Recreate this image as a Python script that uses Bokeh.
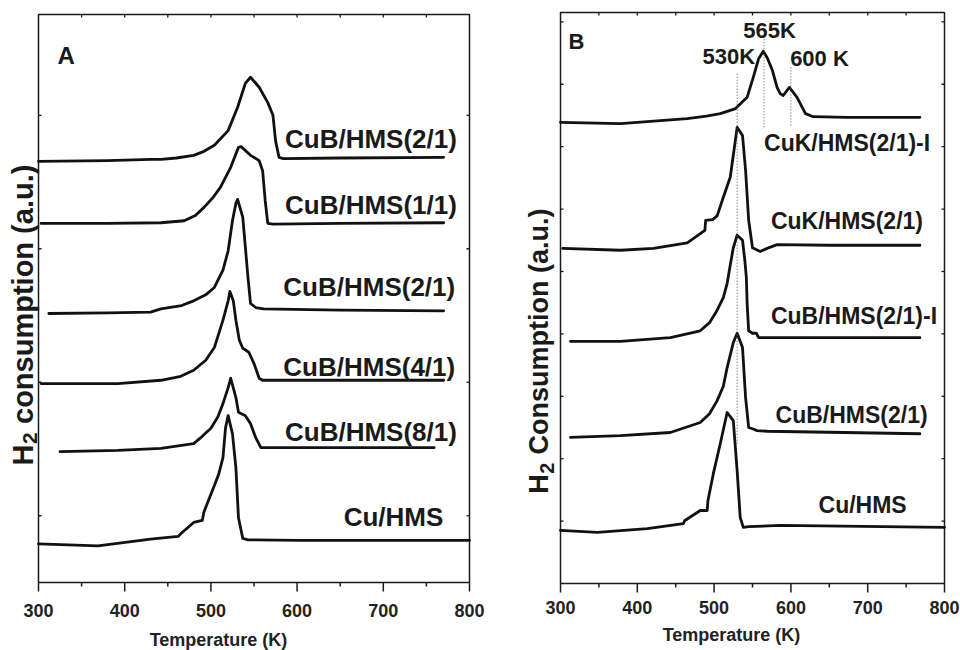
import math
from bokeh.plotting import figure
from bokeh.models import Range1d, Label
from bokeh.layouts import row
from bokeh.embed import file_html
from bokeh.resources import INLINE

FONT = "Liberation Sans"

# ---------------- data: panel A (temperature K, H2 consumption a.u.) ----------------
A_names = ["CuB/HMS(2/1)", "CuB/HMS(1/1)", "CuB/HMS(2/1)", "CuB/HMS(4/1)", "CuB/HMS(8/1)", "Cu/HMS"]

A1_T = [300, 380, 430, 442, 460, 480, 492, 504, 520, 531, 540, 546, 556, 566, 572, 575, 579, 584, 650, 770]
A1_y = [6.31, 6.32, 6.34, 6.34, 6.36, 6.40, 6.46, 6.55, 6.77, 7.12, 7.48, 7.57, 7.42, 7.19, 7.00, 6.62, 6.37, 6.35, 6.36, 6.37]

A2_T = [303, 380, 442, 469, 482, 492, 502, 511, 523, 532, 535, 546, 556, 560, 563, 566, 572, 650, 770]
A2_y = [5.38, 5.38, 5.39, 5.42, 5.50, 5.62, 5.76, 5.92, 6.22, 6.52, 6.53, 6.40, 6.32, 6.17, 5.72, 5.38, 5.37, 5.38, 5.39]

A3_T = [312, 380, 430, 442, 466, 480, 494, 504, 514, 520, 525, 529, 531, 537, 540, 543, 546, 552, 561, 650, 770]
A3_y = [4.03, 4.04, 4.05, 4.10, 4.15, 4.22, 4.31, 4.42, 4.68, 4.97, 5.42, 5.68, 5.74, 5.47, 5.02, 4.57, 4.18, 4.12, 4.10, 4.08, 4.07]

A4_T = [303, 392, 442, 465, 480, 494, 504, 514, 520, 522, 526, 529, 533, 537, 544, 550, 556, 560, 650, 770]
A4_y = [2.98, 2.98, 3.03, 3.09, 3.18, 3.33, 3.52, 3.93, 4.22, 4.36, 4.22, 3.93, 3.63, 3.51, 3.45, 3.28, 3.06, 3.03, 3.03, 3.03]

A5_T = [325, 392, 442, 480, 490, 500, 508, 514, 520, 523, 529, 532, 540, 546, 552, 558, 650, 759]
A5_y = [1.96, 1.98, 2.01, 2.08, 2.19, 2.31, 2.48, 2.68, 2.92, 3.06, 2.77, 2.55, 2.50, 2.38, 2.17, 2.02, 2.02, 2.02]

A6_T = [300, 369, 430, 462, 465, 480, 490, 492, 503, 509, 514, 517, 520, 525, 529, 532, 537, 543, 604, 800]
A6_y = [0.58, 0.55, 0.65, 0.69, 0.73, 0.90, 0.93, 1.06, 1.42, 1.62, 1.87, 2.32, 2.50, 2.23, 1.72, 0.97, 0.66, 0.64, 0.63, 0.63]

# ---------------- data: panel B ----------------
B_names = ["CuK/HMS(2/1)-I", "CuK/HMS(2/1)", "CuB/HMS(2/1)-I", "CuB/HMS(2/1)", "Cu/HMS"]

B1_T = [300, 378, 465, 490, 508, 528, 543, 551, 558, 564, 569, 576, 582, 586, 590, 598, 608, 619, 629, 673, 768]
B1_y = [7.39, 7.37, 7.45, 7.49, 7.53, 7.61, 7.79, 8.11, 8.41, 8.53, 8.43, 8.22, 7.95, 7.85, 7.82, 7.95, 7.79, 7.53, 7.48, 7.47, 7.47]

B2_T = [303, 378, 421, 465, 488, 489, 498, 504, 512, 521, 526, 530, 537, 541, 545, 550, 560, 569, 582, 650, 768]
B2_y = [5.37, 5.34, 5.37, 5.46, 5.66, 5.82, 5.83, 5.89, 6.19, 6.51, 6.95, 7.31, 7.18, 6.62, 5.82, 5.38, 5.32, 5.37, 5.43, 5.42, 5.42]

B3_T = [313, 378, 443, 482, 494, 504, 512, 517, 521, 525, 530, 537, 540, 542, 543, 545, 550, 555, 558, 620, 768]
B3_y = [3.88, 3.88, 3.94, 4.05, 4.18, 4.38, 4.58, 4.81, 5.10, 5.38, 5.58, 5.50, 5.18, 4.90, 4.49, 4.05, 4.01, 4.01, 3.94, 3.94, 3.94]

B4_T = [313, 378, 443, 482, 494, 504, 512, 517, 525, 530, 537, 541, 545, 550, 556, 569, 768]
B4_y = [2.34, 2.37, 2.42, 2.58, 2.72, 2.93, 3.16, 3.46, 3.86, 4.01, 3.78, 2.98, 2.50, 2.48, 2.45, 2.44, 2.40]

B5_T = [300, 348, 413, 460, 462, 482, 491, 492, 499, 508, 517, 525, 530, 534, 538, 545, 586, 800]
B5_y = [0.85, 0.82, 0.88, 0.96, 1.01, 1.17, 1.17, 1.33, 1.76, 2.24, 2.74, 2.61, 1.81, 1.06, 0.90, 0.91, 0.93, 0.90]

# peak markers in panel B
B_peaks = [530, 565, 600]
B_peak_labels = ["530K", "565K", "600 K"]
B_peak_lo = [2.24, 7.31, 7.34]
B_peak_hi = [8.17, 8.73, 8.30]

# axis ticks
x_major = [300, 400, 500, 600, 700, 800]
x_major_labels = ["300", "400", "500", "600", "700", "800"]
x_minor = [350, 450, 550, 650, 750]
top_ticks = [350, 400, 450, 500, 550, 600, 650, 700, 750]
A_yticks = [1, 3, 5, 7]
B_yticks = [1, 2, 3, 4, 5, 6, 7, 8, 9]
x_title = "Temperature (K)"

# ---------------- layout (positions, not data) ----------------
A_label_x = [586, 586, 584, 584, 586, 654]
A_label_y = [6.52, 5.53, 4.30, 3.10, 2.13, 0.85]
B_label_x = [565, 574, 574, 580, 636]
B_label_y = [6.94, 5.69, 4.17, 2.58, 1.14]
B_peak_lab_x = [485, 538, 599]
B_peak_lab_y = [8.33, 8.75, 8.30]

INK = "#1a1a1a"
TXT = "#222222"
LIFT = 0.32   # baseline correction, fraction of the font size


def add_label(pp, x, y, text, size, align="left", angle=0.0, color=INK):
    p, pxy = pp
    yy = y + (LIFT * size / pxy if angle == 0.0 else 0.0)
    p.add_layout(Label(x=x, y=yy, text=text, text_font=FONT, text_font_style="bold",
                       text_font_size=f"{size}px", text_color=color, text_align=align,
                       text_baseline="alphabetic", angle=angle))


def make_panel(fig_w, fig_h, box_l, box_r, box_t, box_b, ymax,
               tick_base_px, title_base_px, title_center_px, yticks):
    """Whole canvas is the frame; the plot box and the axis are drawn inside it."""
    pxx = (box_r - box_l) / 500.0
    pxy = (box_b - box_t) / ymax
    x0 = 300 - box_l / pxx
    x1 = 800 + (fig_w - box_r) / pxx
    y1 = ymax + box_t / pxy
    y0 = -(fig_h - box_b) / pxy
    p = figure(width=fig_w, height=fig_h, x_range=Range1d(x0, x1),
               y_range=Range1d(y0, y1), output_backend="svg",
               toolbar_location=None, x_axis_location=None, y_axis_location=None,
               min_border=0)
    p.grid.visible = False
    p.outline_line_color = None
    p.background_fill_color = "white"
    p.border_fill_color = "white"
    pp = (p, pxy)

    # plot box
    p.quad(left=[300], right=[800], bottom=[0], top=[ymax], fill_color=None,
           line_color=INK, line_width=1.5)
    # bottom axis: outward ticks + labels
    p.ray(x=x_major, y=[0] * len(x_major), angle=-math.pi / 2, length=9,
          length_units="screen", line_color=INK, line_width=1.5)
    p.ray(x=x_minor, y=[0] * len(x_minor), angle=-math.pi / 2, length=4,
          length_units="screen", line_color=INK, line_width=1.5)
    yb = -(tick_base_px - box_b) / pxy
    for xv, lab in zip(x_major, x_major_labels):
        add_label(pp, xv, yb, lab, 18, align="center", color=TXT)
    yt = -(title_base_px - box_b) / pxy
    xt = 300 + (title_center_px - box_l) / pxx
    add_label(pp, xt, yt, x_title, 18, align="center", color=TXT)

    # inner ticks on left, right and top
    tick = dict(length=3, length_units="screen", line_color=INK, line_width=1.3)
    p.ray(x=[300] * len(yticks), y=yticks, angle=0, **tick)
    p.ray(x=[800] * len(yticks), y=yticks, angle=math.pi, **tick)
    p.ray(x=top_ticks, y=[ymax] * len(top_ticks), angle=-math.pi / 2, **tick)
    return pp


LINE = dict(line_color="#111111", line_width=2.8, line_join="round", line_cap="round")

# ---------------- panel A ----------------
ppA = make_panel(505, 650, 38, 469, 14, 582, 8.51, 616, 645, 218, A_yticks)
pA = ppA[0]
for T, y in [(A1_T, A1_y), (A2_T, A2_y), (A3_T, A3_y), (A4_T, A4_y), (A5_T, A5_y), (A6_T, A6_y)]:
    pA.line(T, y, **LINE)
for name, lx, ly in zip(A_names, A_label_x, A_label_y):
    add_label(ppA, lx, ly, name, 26)
add_label(ppA, 322, 7.78, "A", 24)
# y-axis title (composed: H + subscript 2 + rest)
add_label(ppA, 281.6, 1.753, "H", 29, angle=math.pi / 2)
add_label(ppA, 289.6, 2.075, "2", 21, angle=math.pi / 2)
add_label(ppA, 281.6, 2.375, "consumption (a.u.)", 29, angle=math.pi / 2)

# ---------------- panel B ----------------
ppB = make_panel(455, 650, 55, 439, 12, 583, 9.15, 613, 640, 226, B_yticks)
pB = ppB[0]
for T, y in [(B1_T, B1_y), (B2_T, B2_y), (B3_T, B3_y), (B4_T, B4_y), (B5_T, B5_y)]:
    pB.line(T, y, **LINE)
for xp, lo, hi in zip(B_peaks, B_peak_lo, B_peak_hi):
    pB.line([xp, xp], [lo, hi], line_color="#555555", line_width=1, line_dash="1 2")
for name, lx, ly in zip(B_names, B_label_x, B_label_y):
    add_label(ppB, lx, ly, name, 23)
for txt, lx, ly in zip(B_peak_labels, B_peak_lab_x, B_peak_lab_y):
    add_label(ppB, lx, ly, txt, 22)
add_label(ppB, 310.4, 8.57, "B", 22)
add_label(ppB, 271.4, 1.44, "H", 27, angle=math.pi / 2)
add_label(ppB, 281.8, 1.76, "2", 20, angle=math.pi / 2)
add_label(ppB, 271.4, 2.067, "Consumption (a.u.)", 27, angle=math.pi / 2)

layout = row(pA, pB)
open("out.html", "w").write(file_html(layout, INLINE))
